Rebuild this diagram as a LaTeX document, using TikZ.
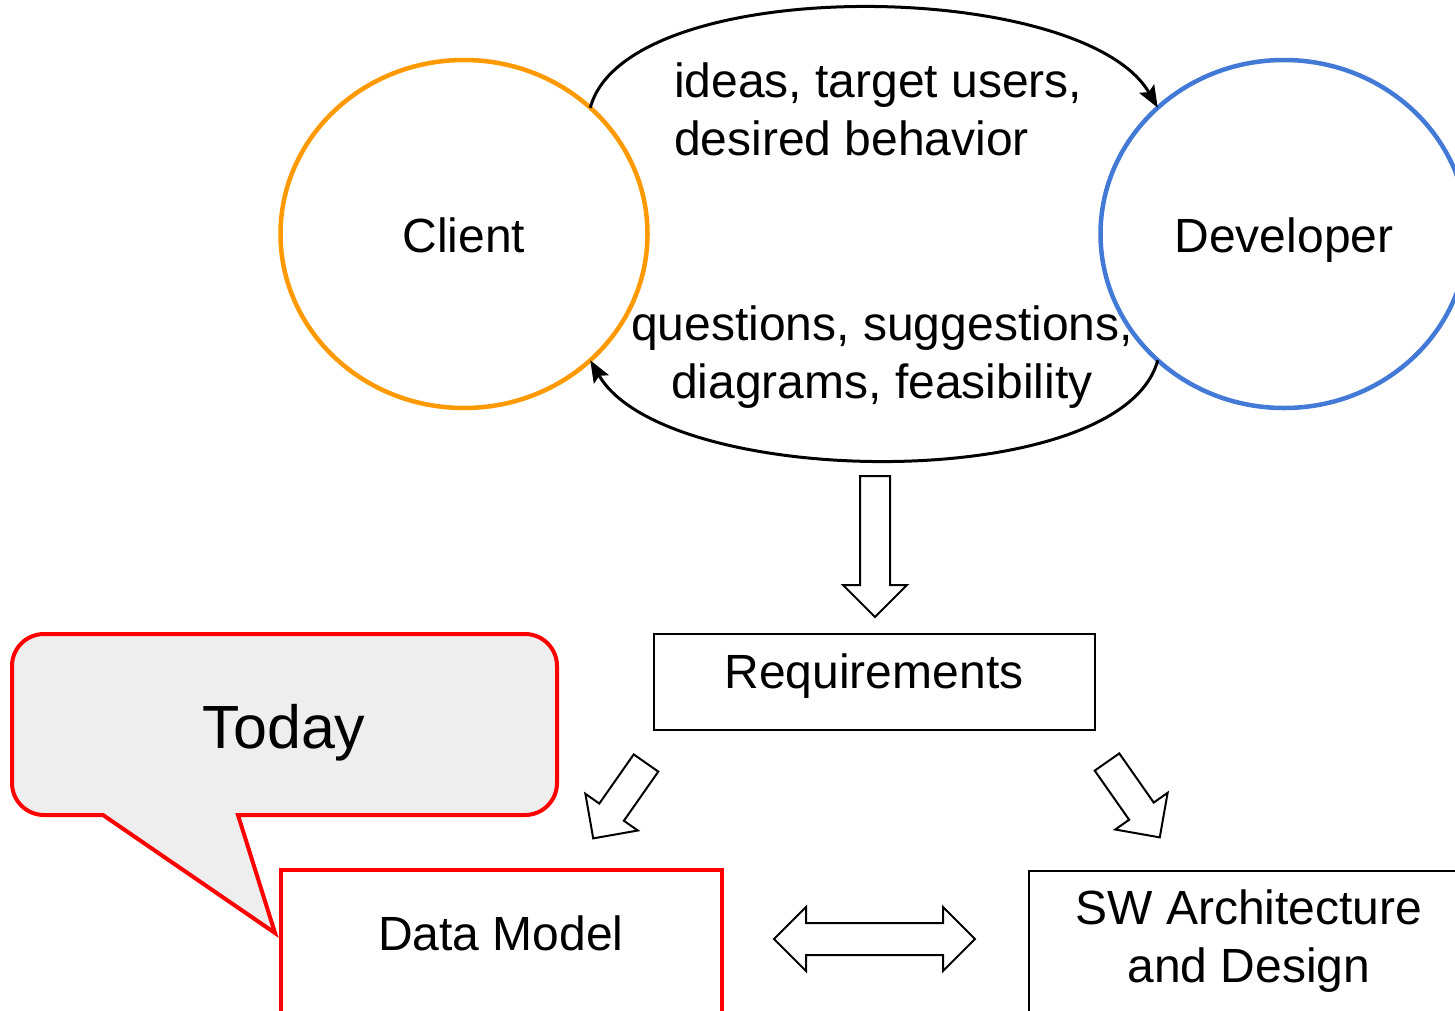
\documentclass[tikz,border=0pt]{standalone}
\usepackage{fontspec}
\setmainfont{Liberation Sans}
\usetikzlibrary{arrows.meta,shapes.geometric}
\definecolor{clientorange}{RGB}{255,153,0}
\definecolor{devblue}{RGB}{66,122,214}
\definecolor{todaygray}{RGB}{238,238,238}
\tikzset{
    every node/.style={font=\fontsize{48}{58}\selectfont, inner sep=0pt,
        outer sep=0pt}
}
\tikzset{
    party/.style={ellipse, draw, line width=4.5pt, minimum width=367pt,
        minimum height=348pt, text height=36pt, text depth=0pt},
    talk/.style={line width=3pt, -{Stealth[length=22pt,width=17pt,inset=4pt]}},
    stage/.style={rectangle, draw, line width=2pt, minimum width=441pt},
    hollow/.style={draw, line width=2pt, fill=white, line join=miter},
    callout/.style={draw=red, fill=todaygray, line width=4pt,
        rounded corners=32pt, line join=miter}
}
\newcommand{\hollowarrow}[3]{%
    \begin{scope}[shift={(#1)}, rotate=#2]
        \draw[hollow] (0,-15) -- (#3-32,-15) -- (#3-32,-32) -- (#3,0)
            -- (#3-32,32) -- (#3-32,15) -- (0,15) -- cycle;
    \end{scope}}

\begin{document}
\begin{tikzpicture}[x=1pt, y=1pt]
	\clip (0,0) rectangle (1455,-1010);
	\node (client) [party, draw=clientorange] at (464,-234) {Client};
	\node (dev) [party, draw=devblue] at (1284,-234) {Developer};
	\node (asks) [anchor=north west, align=left] at (674,-63)
		{ideas, target users,\\desired behavior};
	\node (answers) [anchor=north, align=center] at (882,-306)
		{questions, suggestions,\\diagrams, feasibility};

	\draw[talk] (client.45) to[out=75, in=120, out distance=140pt,
		in distance=150pt] (dev.135);
	\draw[talk] (dev.225) to[out=-105, in=-60, out distance=140pt,
		in distance=150pt] (client.315);

	\node (req) [stage, minimum height=96pt, text height=12pt, text depth=0pt]
		at (874,-682) {Requirements};

	\coordinate (tip) at (275,-933);
	\draw[callout] (238,-815) -- (557,-815) -- (557,-634) -- (12,-634)
		-- (12,-815) [sharp corners] -- (103,-815) -- (tip) -- cycle;
	\node (today) [font=\fontsize{61}{70}\selectfont] at (284,-733) {Today};

	\node (dm) [stage, draw=red, line width=4pt, minimum height=160pt,
		text height=0pt, text depth=0pt] at (501,-950) {Data Model};
	\node (sw) [stage, minimum height=180pt] at (1249,-961) {};
	\node (swtext) [align=center] at (1249,-941) {SW Architecture\\and Design};

	\coordinate (down) at (875,-476);
	\coordinate (left) at (646,-763);
	\coordinate (right) at (1107,-762);
	\hollowarrow{down}{-90}{141}
	\hollowarrow{left}{235}{92}
	\hollowarrow{right}{305}{92}

	\draw[hollow] (774,-939) -- (806,-907) -- (806,-923) -- (943,-923)
		-- (943,-907) -- (975,-939) -- (943,-971) -- (943,-955)
		-- (806,-955) -- (806,-971) -- cycle;
\end{tikzpicture}
\end{document}
